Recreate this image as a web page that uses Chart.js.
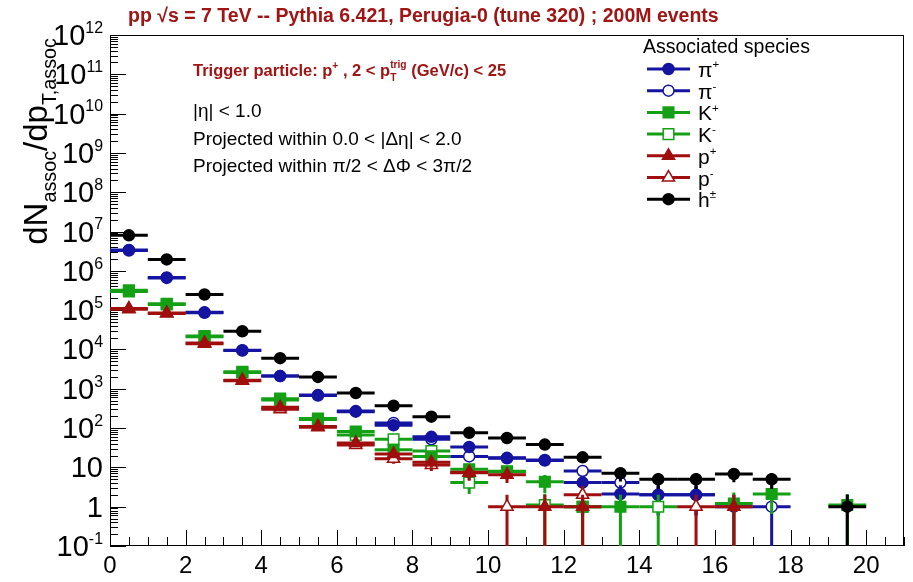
<!DOCTYPE html>
<html lang="en">
<head>
  <meta charset="UTF-8">
  <title>Associated yields, Pythia 6.421 Perugia-0</title>
  <script src="https://cdn.jsdelivr.net/npm/chart.js"></script>
  <style>
    html, body {
      margin: 0;
      background: #fff;
    }
    #wrap {
      width: 913px;
      height: 582px;
    }
  </style>
</head>
<body>
  <div id="wrap"><canvas id="plot" width="913" height="582"></canvas></div>

  <script>
    // pT,assoc bin centres (GeV/c), bins are 1 GeV/c wide
    const binCenters = [0.5, 1.5, 2.5, 3.5, 4.5, 5.5, 6.5, 7.5, 8.5, 9.5,
                        10.5, 11.5, 12.5, 13.5, 14.5, 15.5, 16.5, 17.5, 18.5, 19.5];

    const piPlus    = [3.4e6, 6.8e5, 8.8e4, 9.6e3, 2.1e3, 690, 270, 118, 60, 33, 17.5, 15.5, 4.1, 2.1, 2.0, 2.0, 1.0, null, null, null];
    const piPlusErr = [1800, 820, 300, 98, 46, 26, 16, 11, 7.7, 5.7, 4.2, 3.9, 2.0, 1.4, 1.4, 1.4, 1.0, null, null, null];
    const piMinus    = [3.3e6, 6.6e5, 8.6e4, 9.4e3, 2.1e3, 670, 262, 135, 52, 19, 17, 15, 8.1, 4.1, 2.0, 2.0, null, 1.0, null, null];
    const piMinusErr = [1800, 810, 290, 97, 46, 26, 16, 12, 7.2, 4.4, 4.1, 3.9, 2.8, 2.0, 1.4, 1.4, null, 1.0, null, null];
    const kPlus    = [3.2e5, 1.45e5, 2.2e4, 2.7e3, 560, 175, 82, 28, 19, 9.0, 7.7, 4.3, 1.0, 1.0, null, null, 1.2, 2.1, null, 1.1];
    const kPlusErr = [570, 380, 150, 52, 24, 13, 9.0, 5.3, 4.4, 3.0, 2.8, 2.1, 1.0, 1.0, null, null, 1.1, 1.45, null, 1.0];
    const kMinus    = [3.0e5, 1.4e5, 2.1e4, 2.6e3, 520, 165, 67, 52, 26, 4.1, 8.0, 1.1, 1.0, null, 1.0, null, null, null, null, null];
    const kMinusErr = [550, 370, 145, 51, 23, 13, 8.2, 7.2, 5.1, 2.0, 2.8, 1.0, 1.0, null, 1.0, null, null, null, null, null];
    const pPlus    = [1.1e5, 8.5e4, 1.45e4, 1.65e3, 340, 110, 42, 22, 13.5, 7.5, 6.5, 1.0, 1.0, null, null, null, 1.0, null, null, null];
    const pPlusErr = [330, 290, 120, 41, 18, 10.5, 6.5, 4.7, 3.7, 2.7, 2.5, 1.0, 1.0, null, null, null, 1.0, null, null, null];
    const pMinus    = [1.05e5, 8.2e4, 1.4e4, 1.6e3, 300, 105, 37, 16.5, 11.5, 7.3, 1.0, null, 2.0, null, null, 1.0, null, null, null, null];
    const pMinusErr = [320, 285, 118, 40, 17, 10.2, 6.1, 4.1, 3.4, 2.7, 1.0, null, 1.4, null, null, 1.0, null, null, null, null];
    const hAll    = [8.0e6, 1.95e6, 2.5e5, 2.9e4, 6.0e3, 2.0e3, 780, 370, 195, 76, 56, 38, 18, 7.1, 5.0, 5.0, 6.8, 5.0, null, 1.0];
    const hAllErr = [2800, 1400, 500, 170, 77, 45, 28, 19, 14, 8.7, 7.5, 6.2, 4.2, 2.7, 2.2, 2.2, 2.6, 2.2, null, 1.0];

    const xTickLabels = [0, 2, 4, 6, 8, 10, 12, 14, 16, 18, 20];
    const yDecades = [-1, 0, 1, 2, 3, 4, 5, 6, 7, 8, 9, 10, 11, 12];

    const halfBin = 0.5;
    const BLUE = '#1414a0', GREEN = '#14a014', RED = '#a00e0e', DARKRED = '#a01414';
    const FONT = '"Liberation Sans", Arial, Helvetica, sans-serif';

    function toPoints(vals, errs) {
      const pts = [];
      binCenters.forEach((x, i) => {
        if (vals[i] != null) pts.push({ x: x, y: vals[i], e: errs[i] || 0 });
      });
      return pts;
    }

    // legend order; "layer" = drawing order (higher on top)
    const species = [
      { label: ['\u03C0', '+'], vals: piPlus,  errs: piPlusErr,  color: BLUE,  style: 'circle',   open: false, r: 5.5, layer: 1 },
      { label: ['\u03C0', '-'], vals: piMinus, errs: piMinusErr, color: BLUE,  style: 'circle',   open: true,  r: 5.5, layer: 0 },
      { label: ['K', '+'],      vals: kPlus,   errs: kPlusErr,   color: GREEN, style: 'rect',     open: false, r: 7.5, layer: 3 },
      { label: ['K', '-'],      vals: kMinus,  errs: kMinusErr,  color: GREEN, style: 'rect',     open: true,  r: 7.5, layer: 2 },
      { label: ['p', '+'],      vals: pPlus,   errs: pPlusErr,   color: RED,   style: 'triangle', open: false, r: 7, layer: 5 },
      { label: ['p', '-'],      vals: pMinus,  errs: pMinusErr,  color: RED,   style: 'triangle', open: true,  r: 7, layer: 4 },
      { label: ['h', '\u00B1'], vals: hAll,    errs: hAllErr,    color: '#000', style: 'circle',  open: false, r: 5.5, layer: 6 }
    ];

    const datasets = species.map(s => ({
      label: s.label.join(''),
      data: toPoints(s.vals, s.errs),
      order: 6 - s.layer,
      borderColor: s.color,
      pointStyle: s.style,
      pointRadius: s.r,
      pointBorderWidth: 1.5,
      pointBorderColor: s.color,
      pointBackgroundColor: s.open ? '#fff' : s.color,
      showLine: false
    }));

    // draws text with ^superscripts / _subscripts; parts = [[text, kind], ...]
    function richText(ctx, x, y, parts, size, weight, color, align, ratio) {
      const small = size * (ratio || 0.62);
      const f = (s) => (weight || 'normal') + ' ' + s + 'px ' + FONT;
      let total = 0;
      const widths = parts.map(([t, k]) => {
        let w;
        if (k === '^_') {
          ctx.font = f(small);
          w = Math.max(ctx.measureText(t[0]).width, ctx.measureText(t[1]).width);
        } else {
          ctx.font = f(k ? small : size);
          w = ctx.measureText(t).width;
        }
        total += w;
        return w;
      });
      let cx = x;
      if (align === 'right') cx = x - total;
      if (align === 'center') cx = x - total / 2;
      ctx.fillStyle = color;
      ctx.textAlign = 'left';
      ctx.textBaseline = 'alphabetic';
      parts.forEach(([t, k], i) => {
        if (k === '^') { ctx.font = f(small); ctx.fillText(t, cx, y - size * 0.42); }
        else if (k === '_') { ctx.font = f(small); ctx.fillText(t, cx, y + size * 0.28); }
        else if (k === '^_') {
          ctx.font = f(small);
          ctx.fillText(t[0], cx, y - size * 0.5);
          ctx.fillText(t[1], cx, y + size * 0.32);
        } else { ctx.font = f(size); ctx.fillText(t, cx, y); }
        cx += widths[i];
      });
    }

    const errorBars = {
      id: 'errorBars',
      beforeDatasetDraw(chart, args) {
        const ds = chart.data.datasets[args.index];
        const { ctx, chartArea } = chart;
        const xs = chart.scales.x, ys = chart.scales.y;
        ctx.save();
        ctx.beginPath();
        ctx.rect(chartArea.left, chartArea.top, chartArea.width, chartArea.height);
        ctx.clip();
        ctx.strokeStyle = ds.borderColor;
        ctx.lineWidth = 3;
        ctx.lineCap = 'butt';
        ds.data.forEach(p => {
          const yp = ys.getPixelForValue(p.y);
          const xc = xs.getPixelForValue(p.x);
          const lo = p.y - p.e;
          const ylo = lo > ys.min ? ys.getPixelForValue(lo) : chartArea.bottom;
          const yhi = ys.getPixelForValue(p.y + p.e);
          ctx.beginPath();
          ctx.moveTo(xs.getPixelForValue(p.x - halfBin), yp);
          ctx.lineTo(xs.getPixelForValue(p.x + halfBin), yp);
          ctx.moveTo(xc, ylo);
          ctx.lineTo(xc, yhi);
          ctx.stroke();
        });
        ctx.restore();
      }
    };

    // ROOT style frame, inward ticks, axis labels, texts and legend
    const rootFrame = {
      id: 'rootFrame',
      beforeDatasetsDraw(chart) {
        const { ctx, chartArea: a } = chart;
        const xs = chart.scales.x, ys = chart.scales.y;
        ctx.save();
        ctx.strokeStyle = '#000';
        ctx.lineWidth = 1;
        ctx.beginPath();
        for (let v = 0; v <= xs.max + 1e-9; v += 0.5) {
          const px = Math.round(xs.getPixelForValue(v)) + 0.5;
          const len = (Math.abs(v % 2) < 1e-9) ? 16 : 9;
          ctx.moveTo(px, a.bottom);
          ctx.lineTo(px, a.bottom - len);
        }
        yDecades.forEach(d => {
          for (let m = 1; m <= 9; m++) {
            const v = m * Math.pow(10, d);
            if (v > ys.max * 1.0001) break;
            const py = Math.round(ys.getPixelForValue(v)) + 0.5;
            ctx.moveTo(a.left, py);
            ctx.lineTo(a.left + (m === 1 ? 16 : 8), py);
          }
        });
        ctx.stroke();
        ctx.strokeRect(a.left + 0.5, a.top + 0.5, a.width - 1, a.height - 1);
        ctx.restore();
      },
      afterDraw(chart) {
        const { ctx, chartArea: a } = chart;
        const xs = chart.scales.x, ys = chart.scales.y;
        ctx.save();

        // x tick labels
        ctx.fillStyle = '#000';
        ctx.font = '24px ' + FONT;
        ctx.textAlign = 'center';
        ctx.textBaseline = 'alphabetic';
        xTickLabels.forEach(v => ctx.fillText(String(v), xs.getPixelForValue(v), a.bottom + 27));

        // y tick labels 10^n
        yDecades.forEach(d => {
          const py = ys.getPixelForValue(Math.pow(10, d)) + 10;
          let parts;
          if (d === 0) parts = [['1', '']];
          else if (d === 1) parts = [['10', '']];
          else parts = [['10', ''], [String(d), '^']];
          richText(ctx, 103, py, parts, 29, 'normal', '#000', 'right', 0.55);
        });

        // y axis title
        ctx.save();
        ctx.translate(47, 38);
        ctx.rotate(-Math.PI / 2);
        richText(ctx, 0, 0, [['dN', ''], ['assoc', '_'], ['/dp', ''], ['T,assoc', '_']], 33, 'normal', '#000', 'right', 0.6);
        ctx.restore();

        // title
        richText(ctx, 128, 22, [['pp \u221As = 7 TeV -- Pythia 6.421, Perugia-0 (tune 320) ; 200M events', '']],
                 19.5, 'bold', DARKRED, 'left');

        // trigger text
        richText(ctx, 193, 76, [['Trigger particle: p', ''], ['+', '^'], [' , 2 < p', ''], [['trig', 'T'], '^_'],
                                [' (GeV/c) < 25', '']], 16.5, 'bold', DARKRED, 'left');

        // cuts
        richText(ctx, 193, 117, [['|\u03B7| < 1.0', '']], 19, 'normal', '#000', 'left');
        richText(ctx, 193, 145, [['Projected within 0.0 < |\u0394\u03B7| < 2.0', '']], 19, 'normal', '#000', 'left');
        richText(ctx, 193, 172, [['Projected within \u03C0/2 < \u0394\u03A6 < 3\u03C0/2', '']], 19, 'normal', '#000', 'left');

        // legend
        richText(ctx, 643, 53, [['Associated species', '']], 19.5, 'normal', '#000', 'left');
        species.forEach((s, i) => {
          const ly = 69 + i * 21.7;
          ctx.strokeStyle = s.color;
          ctx.lineWidth = 3;
          ctx.beginPath();
          ctx.moveTo(647, ly);
          ctx.lineTo(690, ly);
          ctx.stroke();
          ctx.fillStyle = s.open ? '#fff' : s.color;
          ctx.strokeStyle = s.color;
          ctx.lineWidth = 1.5;
          Chart.helpers.drawPoint(ctx, { pointStyle: s.style, radius: s.r, borderWidth: 1.5, rotation: 0 }, 668.5, ly);
          richText(ctx, 698, ly + 8, [[s.label[0], ''], [s.label[1], '^']], 21, 'normal', '#000', 'left', 0.55);
        });

        ctx.restore();
      }
    };

    new Chart(document.getElementById('plot').getContext('2d'), {
      type: 'scatter',
      data: { datasets: datasets },
      options: {
        responsive: false,
        animation: false,
        events: [],
        layout: { padding: { left: 110, top: 35, right: 6, bottom: 36 } },
        scales: {
          x: { type: 'linear', min: 0, max: 21, display: false },
          y: { type: 'logarithmic', min: 0.1, max: 1e12, display: false }
        },
        plugins: {
          legend: { display: false },
          tooltip: { enabled: false }
        }
      },
      plugins: [errorBars, rootFrame]
    });
  </script>
</body>
</html>
